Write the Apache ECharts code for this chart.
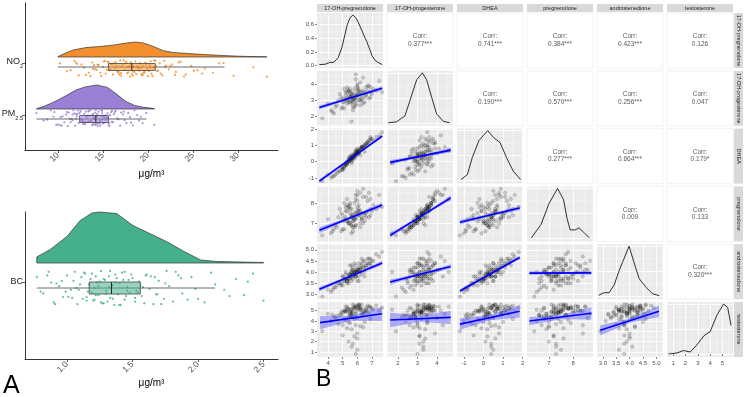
<!DOCTYPE html>
<html>
<head>
<meta charset="utf-8">
<script src="https://cdn.jsdelivr.net/npm/echarts@6/dist/echarts.min.js"></script>
<style>
html, body { margin: 0; padding: 0; background: #fff; }
#chart { width: 744px; height: 397px; }
</style>
</head>
<body>
<div id="chart"></div>
<script>
// ---------- panel A: raincloud data ----------
const no2 = [
  10.2, 11.0, 11.8, 12.3, 12.9, 13.4, 13.8, 14.1, 14.5, 14.8,
  15.0, 15.3, 15.5, 15.7, 15.9, 16.1, 16.3, 16.5, 16.7, 16.9,
  17.0, 17.2, 17.4, 17.5, 17.7, 17.9, 18.0, 18.1, 18.3, 18.4,
  18.6, 18.7, 18.9, 19.0, 19.1, 19.3, 19.4, 19.6, 19.7, 19.9,
  20.0, 20.2, 20.4, 20.6, 20.8, 21.0, 21.3, 21.6, 21.9, 22.3,
  22.7, 23.1, 23.6, 24.2, 24.8, 25.5, 26.3, 27.2, 28.4, 29.5,
  31.7, 33.2, 12.6, 14.3, 15.6, 16.6, 17.3, 18.2, 18.8, 19.5,
  20.3, 21.1, 22.0, 13.1, 16.0, 17.8, 19.2, 20.5, 23.4, 26.0,
  11.4, 12.0, 13.6, 14.0, 14.7, 15.2, 15.8, 16.2, 16.8, 17.1,
  17.6, 18.5, 18.9, 19.4, 19.8, 20.1, 20.7, 21.4, 22.5, 24.0,
  14.4, 15.4, 16.4, 17.0, 17.7, 18.3, 19.1, 19.6, 20.9, 23.0,
  12.1, 13.9, 15.1, 16.7, 18.0, 19.3, 20.2, 21.8, 25.1, 27.9
];
const pm25 = [
  7.6, 8.4, 9.2, 9.8, 10.3, 10.7, 11.0, 11.3, 11.6, 11.9,
  12.1, 12.3, 12.5, 12.7, 12.9, 13.0, 13.2, 13.3, 13.5, 13.6,
  13.8, 13.9, 14.0, 14.1, 14.2, 14.3, 14.4, 14.5, 14.7, 14.8,
  14.9, 15.0, 15.2, 15.3, 15.5, 15.6, 15.8, 16.0, 16.3, 16.6,
  16.9, 17.2, 17.6, 18.0, 18.5, 19.0, 19.8, 20.7, 10.5, 11.5,
  12.2, 12.8, 13.4, 13.9, 14.4, 14.9, 15.4, 16.1, 17.0, 18.3,
  9.5, 11.1, 12.0, 12.6, 13.1, 13.7, 14.2, 14.6, 15.1, 15.7,
  16.4, 17.4, 18.8, 10.0, 11.8, 13.3, 14.0, 14.7, 15.9, 19.4,
  8.8, 9.6, 10.4, 10.9, 11.4, 11.7, 12.0, 12.4, 12.8, 13.1,
  13.4, 13.6, 13.9, 14.1, 14.3, 14.6, 14.8, 15.1, 15.3, 15.7,
  16.2, 16.7, 17.3, 18.1, 19.2, 10.2, 11.2, 12.6, 13.5, 14.2,
  14.9, 15.5, 16.0, 13.0, 13.8, 14.4, 15.0, 12.2, 11.6, 17.8
];
const bc = [
  0.77, 0.82, 0.86, 0.90, 0.94, 0.97, 1.00, 1.03, 1.05, 1.08,
  1.10, 1.12, 1.14, 1.16, 1.18, 1.20, 1.21, 1.23, 1.24, 1.26,
  1.27, 1.29, 1.30, 1.32, 1.33, 1.34, 1.36, 1.37, 1.39, 1.40,
  1.42, 1.44, 1.46, 1.48, 1.50, 1.52, 1.55, 1.57, 1.60, 1.63,
  1.66, 1.70, 1.74, 1.78, 1.83, 1.88, 1.95, 2.05, 2.13, 2.20,
  2.29, 2.35, 2.42, 2.50, 0.88, 0.99, 1.07, 1.15, 1.22, 1.28,
  1.35, 1.41, 1.47, 1.53, 1.61, 1.68, 1.76, 1.92, 0.92, 1.04,
  1.13, 1.19, 1.25, 1.31, 1.38, 1.45, 1.58, 1.72, 1.85, 2.00,
  0.80, 0.85, 0.91, 0.96, 1.01, 1.06, 1.09, 1.11, 1.15, 1.17,
  1.19, 1.22, 1.24, 1.26, 1.28, 1.30, 1.33, 1.35, 1.37, 1.40,
  1.43, 1.46, 1.49, 1.52, 1.56, 1.59, 1.64, 1.69, 1.75, 1.81,
  1.87, 1.98, 2.10, 2.24, 2.38, 1.21, 1.32, 1.44, 1.54, 1.67
];
// vertical jitter of the rain points, in -1..1
const jitter = [
  0.6, -0.3, 0.9, -0.8, 0.1, -0.5, 0.7, -0.1, 0.4, -0.9,
  0.2, -0.6, 0.8, -0.2, 0.5, -0.7, 0.0, 0.3, -0.4, 0.95,
  -0.85, 0.45, -0.15, 0.65, -0.55, 0.15, -0.95, 0.75, -0.35, 0.25,
  0.85, -0.65, 0.05, -0.25, 0.55, -0.75, 0.35, -0.45, 0.7, -0.05,
  -0.9, 0.4, -0.6, 0.1, 0.9, -0.3, 0.6, -0.8, 0.2, -0.1,
  0.5, -0.4, 0.8, -0.7, 0.3, -0.2, 0.0, -0.5, 0.65, -0.85,
  0.15, -0.95, 0.45, -0.15, 0.75, -0.35, 0.95, -0.65, 0.25, -0.55,
  0.85, -0.25, 0.35, -0.75, 0.55, -0.45, 0.05, -0.9, 0.7, -0.6,
  -0.2, 0.7, -0.9, 0.4, -0.5, 0.9, -0.1, 0.6, -0.7, 0.2,
  0.8, -0.4, 0.1, -0.8, 0.5, -0.3, 0.95, -0.6, 0.3, -0.95,
  0.45, -0.15, 0.75, -0.55, 0.15, -0.85, 0.65, -0.35, 0.25, -0.75,
  0.55, -0.05, 0.85, -0.45, 0.35, -0.65, 0.05, 0.9, -0.25, 0.6
];
// [min, q1, median, q3, max]
const no2Box = [10.0, 15.6, 18.2, 20.8, 28.5];
const pm25Box = [7.6, 12.4, 14.2, 15.6, 19.8];
const bcBox = [0.77, 1.17, 1.34, 1.56, 2.13];
// half-violin outlines (relative height)
const no2DensX = [10, 10.8, 11.7, 13.1, 14.6, 16.1, 17.6, 18.6, 19.5, 20.6, 21.7, 22.8, 25, 27.6, 30.2, 33.2];
const no2DensY = [0.03, 0.25, 0.47, 0.63, 0.7, 0.79, 0.93, 1.0, 0.93, 0.7, 0.42, 0.3, 0.21, 0.12, 0.05, 0.01];
const pm25DensX = [7.6, 8.5, 9.3, 10, 11, 12, 13, 14.3, 15.5, 16.5, 17.5, 18.5, 19.5, 20.7];
const pm25DensY = [0.01, 0.12, 0.25, 0.38, 0.58, 0.79, 0.92, 1.0, 0.9, 0.62, 0.32, 0.15, 0.07, 0.02];
const bcDensX = [0.77, 0.87, 1.0, 1.1, 1.19, 1.25, 1.38, 1.5, 1.63, 1.76, 1.89, 2.02, 2.14, 2.5];
const bcDensY = [0.12, 0.26, 0.52, 0.83, 0.98, 1.0, 0.97, 0.74, 0.58, 0.42, 0.23, 0.06, 0.03, 0.01];
const no2Ticks = [10, 15, 20, 25, 30];
const bcTicks = [1.0, 1.5, 2.0, 2.5];

// ---------- panel B: pairs plot data ----------
const varNames = ['17-OH-pregnenolone', '17-OH-progesterone', 'DHEA', 'pregnenolone', 'androstenedione', 'testosterone'];
const ohPreg = [
  5.7, 6.2, 5.1, 6.6, 5.4, 4.6, 6.0, 5.8, 7.1, 5.5,
  4.9, 6.4, 5.6, 5.9, 6.8, 5.3, 4.2, 6.1, 5.7, 7.5,
  5.2, 6.3, 5.0, 5.8, 6.5, 3.6, 5.6, 6.0, 5.4, 6.7,
  5.9, 4.8, 6.2, 5.5, 6.9, 5.7, 5.2, 6.4, 5.9, 7.7,
  5.0, 6.1, 5.6, 4.4, 6.6, 5.3, 6.0, 5.8, 6.3, 5.1,
  5.7, 6.9, 5.4, 6.2, 4.0, 5.9, 6.5, 5.6, 6.0, 5.5,
  5.8, 6.3, 5.2, 6.7, 5.5, 4.7, 6.1, 5.6, 7.3, 5.9,
  5.3, 6.5, 5.7, 4.5, 6.0, 5.4, 6.8, 5.1, 6.2, 5.6,
  5.9, 6.4, 4.9, 6.1, 5.5, 7.0, 5.8, 5.3, 6.6, 5.7,
  4.3, 6.0, 5.4, 6.3, 5.2, 5.9, 6.9, 5.6, 6.1, 5.0
];
const ohProg = [
  3.3, 3.5, 2.9, 3.4, 3.0, 2.7, 3.8, 3.1, 3.7, 3.2,
  2.5, 3.6, 3.3, 2.8, 3.9, 3.1, 2.4, 3.4, 2.9, 4.2,
  3.5, 3.0, 2.6, 3.7, 3.2, 1.9, 3.0, 4.0, 3.3, 3.6,
  3.2, 3.4, 2.7, 3.5, 3.8, 2.4, 3.1, 4.4, 3.0, 3.5,
  2.9, 3.6, 3.4, 2.2, 3.3, 2.8, 3.9, 3.1, 3.5, 3.7,
  2.6, 3.2, 3.6, 3.0, 2.8, 4.6, 2.9, 1.7, 3.3, 3.2,
  3.4, 3.1, 3.3, 3.9, 2.9, 3.0, 3.7, 3.2, 3.6, 2.7,
  3.8, 3.5, 3.0, 2.6, 3.4, 3.6, 3.1, 2.5, 4.1, 3.5,
  3.3, 2.8, 3.2, 3.0, 3.7, 3.4, 2.6, 3.5, 3.8, 3.1,
  2.3, 3.6, 2.9, 3.3, 3.0, 4.3, 3.5, 2.8, 3.2, 3.1
];
const dhea = [
  0.3, 0.7, -0.3, 1.0, 0.0, -0.7, 0.5, 0.2, 1.3, 0.1,
  -0.5, 0.9, 0.4, 0.3, 1.1, -0.1, -1.0, 0.6, 0.2, 1.6,
  -0.2, 0.8, -0.4, 0.4, 1.0, -1.2, 0.0, 0.5, 0.1, 1.2,
  0.6, -0.6, 0.7, 0.3, 1.4, 0.1, -0.2, 0.9, 0.4, 1.8,
  -0.5, 0.6, 0.2, -0.9, 1.1, 0.0, 0.8, 0.5, 0.9, -0.3,
  0.3, 1.5, 0.2, 0.4, -0.8, 0.7, 0.6, -0.1, 0.5, 0.3,
  0.4, 0.9, -0.1, 1.2, 0.1, -0.6, 0.7, 0.2, 1.5, 0.5,
  -0.2, 1.0, 0.3, -0.8, 0.6, 0.0, 1.3, -0.4, 0.8, 0.1,
  0.4, 0.8, -0.3, 0.5, 0.2, 1.4, 0.3, -0.1, 1.1, 0.4,
  -0.9, 0.7, 0.0, 0.9, -0.2, 0.6, 1.3, 0.2, 0.5, -0.5
];
const preg = [
  7.4, 7.6, 7.1, 7.3, 7.0, 6.8, 8.1, 7.2, 7.9, 7.5,
  6.6, 8.3, 7.3, 6.9, 8.5, 7.6, 6.5, 7.7, 7.1, 8.4,
  7.8, 7.2, 6.7, 8.0, 7.4, 6.4, 7.3, 8.6, 7.0, 7.6,
  7.5, 7.7, 6.8, 7.9, 8.2, 6.6, 7.2, 8.7, 7.3, 7.8,
  7.4, 7.6, 6.9, 6.7, 7.5, 7.1, 8.4, 7.2, 7.3, 8.0,
  6.8, 7.4, 7.8, 7.0, 7.2, 8.2, 7.1, 6.5, 7.5, 7.7,
  7.5, 7.2, 7.6, 8.1, 7.0, 7.3, 7.9, 7.4, 7.7, 6.9,
  8.2, 7.5, 7.1, 6.9, 7.6, 7.8, 7.3, 6.7, 8.5, 7.7,
  7.2, 7.0, 7.5, 7.4, 8.0, 7.6, 6.8, 7.9, 8.3, 7.3,
  6.6, 7.8, 7.1, 7.5, 7.3, 8.4, 7.7, 6.9, 7.4, 7.2
];
const andro = [
  3.9, 4.1, 3.6, 4.3, 3.8, 3.4, 4.0, 4.0, 4.5, 3.7,
  3.5, 4.2, 4.1, 3.9, 4.4, 3.6, 3.1, 3.8, 4.2, 4.7,
  3.7, 4.4, 3.8, 3.9, 4.0, 2.9, 3.6, 4.1, 3.9, 4.6,
  4.3, 3.5, 4.0, 3.8, 4.3, 3.7, 4.0, 4.5, 3.8, 4.9,
  3.4, 4.1, 3.9, 3.3, 4.2, 3.6, 4.0, 4.4, 3.9, 3.7,
  4.1, 4.6, 3.5, 4.2, 3.2, 4.0, 3.8, 4.0, 3.6, 4.3,
  4.0, 4.3, 3.7, 4.4, 3.9, 3.5, 4.2, 3.8, 4.8, 4.1,
  3.6, 4.5, 3.9, 3.3, 4.0, 3.7, 4.6, 3.6, 4.1, 4.3,
  3.8, 4.2, 3.4, 4.4, 3.9, 4.5, 4.0, 3.5, 4.3, 3.8,
  3.2, 4.1, 3.7, 4.6, 3.9, 3.8, 4.4, 4.0, 3.6, 3.8
];
const testo = [
  4.8, 5.1, 4.2, 5.3, 3.9, 4.5, 5.5, 2.5, 5.2, 4.9,
  4.6, 5.0, 1.5, 4.7, 5.4, 3.3, 4.0, 5.6, 4.4, 5.0,
  4.1, 5.2, 3.6, 5.3, 4.8, 3.0, 5.1, 4.3, 2.0, 5.5,
  4.9, 4.6, 5.2, 3.8, 5.4, 4.5, 5.0, 4.7, 0.8, 5.3,
  4.8, 5.6, 3.2, 4.4, 5.1, 4.9, 2.8, 5.5, 4.6, 5.0,
  5.3, 4.2, 5.2, 3.5, 4.7, 5.4, 4.9, 5.1, 1.2, 4.6,
  5.2, 4.8, 5.4, 5.0, 4.5, 3.7, 5.3, 4.9, 5.5, 4.4,
  5.1, 3.9, 5.6, 4.3, 2.3, 5.2, 4.7, 5.0, 5.4, 4.6,
  5.3, 3.4, 4.9, 5.5, 4.8, 5.1, 4.2, 5.4, 5.0, 1.8,
  4.6, 5.2, 4.4, 5.6, 4.9, 3.6, 5.3, 4.7, 5.1, 2.6
];
const varData = [ohPreg, ohProg, dhea, preg, andro, testo];
const varRange = [[3.24, 7.76], [1.44, 4.82], [-1.35, 2.02], [6.1, 8.82], [2.78, 5.25], [0.5, 5.85]];
const varBreaks = [[4, 5, 6, 7], [2, 3, 4], [-1, 0, 1, 2], [7, 8], [3.0, 3.5, 4.0, 4.5, 5.0], [1, 2, 3, 4, 5]];
const varDigits = [0, 0, 0, 0, 1, 0];
// upper triangle, row by row
const corrLabels = [
  ['0.377***', '0.741***', '0.384***', '0.423***', '0.126'],
  ['0.190***', '0.570***', '0.256***', '0.047'],
  ['0.277***', '0.664***', '0.179*'],
  ['0.009', '0.133'],
  ['0.320***']
];
// diagonal densities: first one in density units, the rest relative height
const diagDensX = [
  [3.4, 3.8, 4.1, 4.4, 4.7, 4.95, 5.15, 5.3, 5.5, 5.7, 5.9, 6.05, 6.3, 6.5, 6.65, 6.85, 7.0, 7.2, 7.4, 7.7],
  [1.5, 1.93, 2.36, 2.62, 2.96, 3.25, 3.47, 3.72, 3.98, 4.32, 4.65],
  [-1.15, -0.82, -0.57, -0.23, 0.22, 0.52, 0.85, 1.18, 1.52, 1.9],
  [6.28, 6.68, 7.01, 7.36, 7.61, 7.75, 7.88, 8.08, 8.25, 8.48, 8.68],
  [2.85, 3.04, 3.23, 3.42, 3.6, 3.79, 3.98, 4.15, 4.36, 4.61, 4.86, 5.11],
  [0.62, 1.3, 1.84, 2.38, 2.92, 3.47, 4.0, 4.55, 5.09, 5.42, 5.69]
];
const diagDensY = [
  [0.015, 0.02, 0.045, 0.05, 0.12, 0.27, 0.45, 0.59, 0.7, 0.74, 0.7, 0.64, 0.52, 0.42, 0.35, 0.24, 0.15, 0.08, 0.05, 0.015],
  [0.0, 0.02, 0.14, 0.45, 0.86, 1.0, 0.86, 0.52, 0.18, 0.03, 0.0],
  [0.02, 0.12, 0.46, 0.8, 1.0, 0.86, 0.76, 0.46, 0.19, 0.02],
  [0.01, 0.28, 0.7, 1.0, 0.77, 0.4, 0.17, 0.17, 0.21, 0.1, 0.01],
  [0.02, 0.07, 0.07, 0.22, 0.5, 0.75, 1.0, 0.7, 0.35, 0.18, 0.05, 0.01],
  [0.0, 0.02, 0.07, 0.04, 0.18, 0.36, 0.45, 0.78, 1.0, 0.93, 0.57]
];
const densBreaks = [0.0, 0.2, 0.4, 0.6];
// linear fits: [row, col, x0, y0, x1, y1, band half-width at x0, middle, x1]
const fitLines = [
  [1, 0, 3.4, 2.56, 7.7, 3.75, 0.12, 0.05, 0.12],
  [2, 0, 3.4, -1.2, 7.7, 1.56, 0.12, 0.05, 0.12],
  [2, 1, 1.6, -0.05, 4.7, 0.7, 0.15, 0.05, 0.15],
  [3, 0, 3.4, 6.65, 7.7, 7.9, 0.15, 0.05, 0.12],
  [3, 1, 1.6, 6.4, 4.7, 8.25, 0.12, 0.04, 0.12],
  [3, 2, -1.2, 7.05, 1.85, 7.75, 0.12, 0.04, 0.1],
  [4, 0, 3.4, 3.23, 7.7, 4.41, 0.1, 0.04, 0.1],
  [4, 1, 1.6, 3.55, 4.7, 4.25, 0.12, 0.04, 0.1],
  [4, 2, -1.2, 3.15, 1.85, 4.65, 0.08, 0.03, 0.08],
  [4, 3, 6.2, 3.95, 8.75, 3.96, 0.08, 0.03, 0.08],
  [5, 0, 3.45, 3.84, 7.7, 4.7, 0.65, 0.25, 0.7],
  [5, 1, 1.6, 4.1, 4.7, 4.35, 0.7, 0.3, 0.65],
  [5, 2, -1.2, 3.7, 1.85, 4.95, 0.55, 0.25, 0.6],
  [5, 3, 6.2, 4.0, 8.75, 4.75, 0.4, 0.2, 0.6],
  [5, 4, 2.9, 3.1, 5.1, 4.95, 0.5, 0.2, 0.55]
];

const chart = echarts.init(document.getElementById('chart'), null, { renderer: 'canvas' });
const font = 'Liberation Sans, Arial, Helvetica, sans-serif';
const option = {
  animation: false,
  textStyle: { fontFamily: font },
  grid: [], xAxis: [], yAxis: [], series: [], graphic: []
};

// ---------- panel A ----------
const rainPanels = [
  { left: 25, top: 3, xMin: 6.33, xMax: 34.44, ticks: no2Ticks, digits: 0 },
  { left: 25, top: 212, xMin: 0.68, xMax: 2.61, ticks: bcTicks, digits: 1 }
];
const clouds = [
  { panel: 0, label: '{m|NO}{s|2}', values: no2, box: no2Box, dx: no2DensX, dy: no2DensY, color: '#F28F2C', tick: 87, base: 93, peak: 15, boxY: 83, half: 3.5, mid: 81.5, spread: 8.5 },
  { panel: 0, label: '{m|PM}{s|2.5}', values: pm25, box: pm25Box, dx: pm25DensX, dy: pm25DensY, color: '#9C80D7', tick: 35, base: 41, peak: 24, boxY: 31, half: 3.5, mid: 32, spread: 8.5 },
  { panel: 1, label: '{m|BC}', values: bc, box: bcBox, dx: bcDensX, dy: bcDensY, color: '#46AF8D', tick: 77, base: 96, peak: 51, boxY: 71, half: 6, mid: 71, spread: 18 }
];

rainPanels.forEach((p, i) => {
  const mine = clouds.filter(c => c.panel === i);
  option.grid.push({ left: p.left, top: p.top, width: 253, height: 147, outerBoundsMode: 'none', containLabel: false });
  option.xAxis.push({
    type: 'value', gridIndex: i, min: p.xMin, max: p.xMax,
    axisLine: { lineStyle: { color: '#000', width: 0.8 } },
    axisTick: { customValues: p.ticks, length: 3, lineStyle: { color: '#333', width: 0.8 } },
    axisLabel: { customValues: p.ticks, rotate: 45, fontSize: 8.5, color: '#4D4D4D', margin: 4,
      formatter: v => v.toFixed(p.digits) },
    splitLine: { show: false },
    name: 'μg/m³', nameLocation: 'middle', nameGap: 19,
    nameTextStyle: { fontSize: 10, color: '#000' }
  });
  option.yAxis.push({
    type: 'value', gridIndex: i, min: 0, max: 147,
    axisLine: { show: true, lineStyle: { color: '#000', width: 0.8 } },
    axisTick: { show: true, customValues: mine.map(c => c.tick), length: 3, lineStyle: { color: '#333', width: 0.8 } },
    axisLabel: {
      customValues: mine.map(c => c.tick), margin: 2,
      formatter: v => (mine.find(c => c.tick === v) || {}).label || '',
      rich: {
        m: { fontSize: 9, color: '#222', verticalAlign: 'top', fontFamily: font },
        s: { fontSize: 5.5, color: '#222', verticalAlign: 'top', padding: [6, 0, 0, 0], fontFamily: font }
      }
    },
    splitLine: { show: false }
  });
});

clouds.forEach(c => {
  const ax = { xAxisIndex: c.panel, yAxisIndex: c.panel };
  option.series.push({
    type: 'custom', ...ax, silent: true, z: 2,
    data: [[c.dx[0], c.base]],
    renderItem: (params, api) => {
      const pts = [api.coord([c.dx[0], c.base])];
      c.dx.forEach((x, i) => pts.push(api.coord([x, c.base + c.dy[i] * c.peak])));
      pts.push(api.coord([c.dx[c.dx.length - 1], c.base]));
      return { type: 'polygon', shape: { points: pts }, style: { fill: c.color, stroke: '#333', lineWidth: 0.7 } };
    }
  });
  option.series.push({
    type: 'scatter', ...ax, silent: true, z: 2, symbolSize: 2.2,
    itemStyle: { color: c.color, opacity: 0.85 },
    data: c.values.map((v, i) => [v, c.mid + jitter[i] * c.spread])
  });
  option.series.push({
    type: 'custom', ...ax, silent: true, z: 3,
    data: [[c.box[2], c.boxY]],
    renderItem: (params, api) => {
      const [lo, q1, md, q3, hi] = c.box;
      const y = api.coord([md, c.boxY])[1];
      const top = api.coord([md, c.boxY + c.half])[1];
      const bot = api.coord([md, c.boxY - c.half])[1];
      const px = v => api.coord([v, c.boxY])[0];
      return {
        type: 'group', children: [
          { type: 'line', shape: { x1: px(lo), y1: y, x2: px(hi), y2: y }, style: { stroke: '#444', lineWidth: 0.8 } },
          { type: 'rect', shape: { x: px(q1), y: top, width: px(q3) - px(q1), height: bot - top },
            style: { fill: echarts.color.modifyAlpha(c.color, 0.55), stroke: '#444', lineWidth: 0.8 } },
          { type: 'line', shape: { x1: px(md), y1: top, x2: px(md), y2: bot }, style: { stroke: '#222', lineWidth: 1 } }
        ]
      };
    }
  });
});

// ---------- panel B ----------
const PB = { left: 317, top: 13, dx: 70, dy: 57.8, w: 66, h: 55 };
const relRange = [-0.06, 1.04];
const relBreaks = [0, 0.5, 1];
const dens0Range = [-0.035, 0.77];

function minorOf(b, range) {
  const step = b[1] - b[0];
  const out = [];
  for (let v = b[0] - step / 2; v <= range[1]; v += step) if (v >= range[0]) out.push(v);
  return out;
}
function bAxis(gridIndex, range, breaks, grid, labels, digits, minor) {
  return {
    type: 'value', gridIndex, min: range[0], max: range[1],
    axisLine: { show: false },
    axisTick: { show: labels, customValues: breaks, length: 2, lineStyle: { color: '#333', width: 0.6 } },
    axisLabel: { show: labels, customValues: breaks, fontSize: 6, color: '#4D4D4D', margin: 3,
      formatter: v => v.toFixed(digits) },
    splitLine: { show: grid, lineStyle: { color: '#FFFFFF', width: minor ? 0.4 : 0.9 } }
  };
}

for (let r = 0; r < 6; r++) {
  for (let c = 0; c < 6; c++) {
    const g = option.grid.length;
    const upper = c > r, diag = r === c;
    const left = PB.left + c * PB.dx, top = PB.top + r * PB.dy;
    option.grid.push({
      left, top, width: PB.w, height: PB.h, show: true, outerBoundsMode: 'none', containLabel: false,
      backgroundColor: upper ? '#FFFFFF' : '#EBEBEB',
      borderWidth: upper ? 0.8 : 0, borderColor: '#EDEDED'
    });
    const xr = varRange[c];
    const yr = diag ? (r === 0 ? dens0Range : relRange) : varRange[r];
    const yb = diag ? (r === 0 ? densBreaks : relBreaks) : varBreaks[r];
    const yd = diag && r === 0 ? 1 : varDigits[r];
    const xi = option.xAxis.length, yi = option.yAxis.length;
    option.xAxis.push(bAxis(g, xr, varBreaks[c], !upper, r === 5, varDigits[c], false));
    option.yAxis.push(bAxis(g, yr, yb, !upper, c === 0, yd, false));
    if (!upper) {
      option.xAxis.push(bAxis(g, xr, minorOf(varBreaks[c], xr), true, false, 0, true));
      option.yAxis.push(bAxis(g, yr, minorOf(yb, yr), true, false, 0, true));
    }
    const ax = { xAxisIndex: xi, yAxisIndex: yi };

    if (upper) {
      const cx = left + PB.w / 2, cy = top + PB.h / 2;
      const txt = { fontSize: 6.5, fill: '#5A5A5A', fontFamily: font, textAlign: 'center', align: 'center', textVerticalAlign: 'middle', verticalAlign: 'middle' };
      option.graphic.push({ type: 'text', x: cx, y: cy - 4, silent: true, style: { ...txt, text: 'Corr:' } });
      option.graphic.push({ type: 'text', x: cx, y: cy + 3.5, silent: true, style: { ...txt, text: corrLabels[r][c - r - 1] } });
    } else if (diag) {
      option.series.push({
        type: 'line', ...ax, silent: true, showSymbol: false, z: 3,
        lineStyle: { color: '#000', width: 0.8 },
        data: diagDensX[c].map((x, i) => [x, diagDensY[c][i]])
      });
    } else {
      const f = fitLines.find(l => l[0] === r && l[1] === c);
      option.series.push({
        type: 'scatter', ...ax, silent: true, z: 2, symbolSize: 3.4,
        itemStyle: { color: 'rgba(0,0,0,0.2)', borderColor: 'rgba(0,0,0,0.35)', borderWidth: 0.5 },
        data: varData[c].map((v, i) => [v, varData[r][i]])
      });
      const [, , x0, y0, x1, y1, s0, sm, s1] = f;
      const xm = (x0 + x1) / 2, ym = (y0 + y1) / 2;
      option.series.push({
        type: 'custom', ...ax, silent: true, z: 3,
        data: [[xm, ym]],
        renderItem: (params, api) => ({
          type: 'polygon',
          shape: { points: [[x0, y0 + s0], [xm, ym + sm], [x1, y1 + s1], [x1, y1 - s1], [xm, ym - sm], [x0, y0 - s0]].map(p => api.coord(p)) },
          style: { fill: 'rgba(70,70,255,0.4)' }
        })
      });
      option.series.push({
        type: 'line', ...ax, silent: true, showSymbol: false, z: 4,
        lineStyle: { color: '#0000FF', width: 1.6 },
        data: [[x0, y0], [x1, y1]]
      });
    }
  }
}

// strips
varNames.forEach((name, i) => {
  const left = PB.left + i * PB.dx, top = PB.top + i * PB.dy;
  option.graphic.push({ type: 'rect', silent: true, shape: { x: left, y: 4, width: PB.w, height: 8 }, style: { fill: '#D9D9D9' } });
  option.graphic.push({ type: 'text', silent: true, x: left + PB.w / 2, y: 8,
    style: { text: name, fontSize: 5.5, fill: '#1A1A1A', fontFamily: font, textAlign: 'center', align: 'center', textVerticalAlign: 'middle', verticalAlign: 'middle' } });
  option.graphic.push({ type: 'rect', silent: true, shape: { x: 734, y: top, width: 9, height: PB.h }, style: { fill: '#D9D9D9' } });
  option.graphic.push({ type: 'text', silent: true, x: 738.5, y: top + PB.h / 2, rotation: -Math.PI / 2,
    style: { text: name, fontSize: 5.5, fill: '#1A1A1A', fontFamily: font, textAlign: 'center', align: 'center', textVerticalAlign: 'middle', verticalAlign: 'middle' } });
});

// panel letters
option.graphic.push({ type: 'text', silent: true, x: 3, y: 386,
  style: { text: 'A', fontSize: 25, fill: '#000', fontFamily: font, textVerticalAlign: 'middle', verticalAlign: 'middle' } });
option.graphic.push({ type: 'text', silent: true, x: 316, y: 380,
  style: { text: 'B', fontSize: 23, fill: '#000', fontFamily: font, textVerticalAlign: 'middle', verticalAlign: 'middle' } });

chart.setOption(option);
</script>
</body>
</html>
